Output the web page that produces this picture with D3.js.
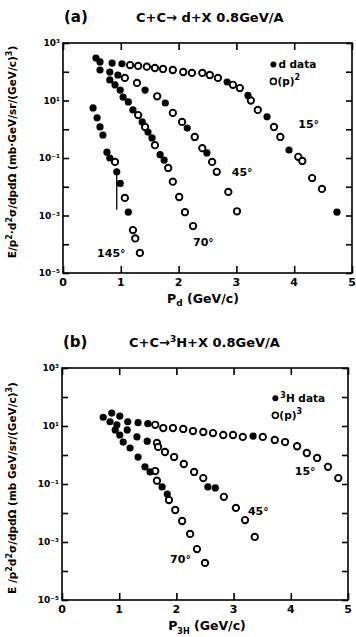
<!DOCTYPE html>
<html><head><meta charset="utf-8">
<script src="https://cdn.jsdelivr.net/npm/d3@7/dist/d3.min.js"></script>
<style>
body{margin:0;background:#fff;}
svg{display:block;}
text{font-family:"DejaVu Sans","Liberation Sans",sans-serif;font-weight:bold;fill:#000;}
</style></head><body>
<svg id="c" width="356" height="637"></svg>
<script>
// ---------- DATA (momentum GeV/c, cross section) ----------
const xTicks = [0,1,2,3,4,5];
const yTickExp = [3,1,-1,-3,-5];
const yMinorExp = [3,2,1,0,-1,-2,-3,-4,-5];

// Panel (a): C+C -> d+X
const a15_d  = [[0.57,300],[0.64,220],[0.85,200],[1.02,190],[2.84,44],[3.20,15],[3.53,2.7],[3.91,0.19],[4.74,0.0013]];
const a15_p2 = [[1.16,170],[1.30,160],[1.45,150],[1.59,135],[1.73,125],[1.90,115],[2.08,98],[2.23,91],[2.41,91],[2.54,77],[2.68,61],[2.94,35],[3.06,27],[3.25,10],[3.37,4.7],[3.65,1.2],[3.76,0.54],[4.07,0.11],[4.14,0.079],[4.31,0.020],[4.48,0.0084]];
const a45_d  = [[0.81,98],[0.95,77],[1.42,23],[1.77,8.2],[2.15,1.1],[2.49,0.15]];
const a45_p2 = [[1.07,61],[1.28,41],[1.63,14],[1.90,3.7],[2.06,1.8],[2.28,0.54],[2.41,0.22],[2.58,0.073],[2.66,0.033],[2.86,0.0066],[3.01,0.0014]];
const a70_d  = [[0.64,115],[0.81,52],[0.90,35],[0.99,23],[1.04,13],[1.13,8.9],[1.21,4.7],[1.37,1.8],[1.47,0.80],[1.54,0.50],[1.68,0.13],[1.75,0.085]];
const a70_p2 = [[1.30,3.1],[1.42,1.2],[1.59,0.28],[1.82,0.045],[1.90,0.015],[2.01,0.0044],[2.11,0.0013],[2.25,0.00043]];
const a145_d  = [[0.52,5.5],[0.59,2.5],[0.64,1.2],[0.69,0.63],[0.76,0.16],[0.81,0.10],[0.93,0.033],[0.99,0.013],[1.13,0.0013]];
const a145_p2 = [[0.90,0.073],[1.07,0.0041],[1.21,0.00031],[1.25,0.00016],[1.33,0.00005]];
const a145_err = [[0.93,0.0016,0.04]];

// Panel (b): C+C -> 3H+X
const b15_t  = [[0.72,20],[0.84,14],[0.87,28],[0.96,11],[1.01,22],[1.15,14],[1.33,13],[1.50,12],[3.34,4.5]];
const b15_p3 = [[1.63,11],[1.77,8.5],[1.94,8.5],[2.12,7.9],[2.29,6.7],[2.47,6.2],[2.64,5.7],[2.82,4.9],[2.99,4.9],[3.16,4.2],[3.51,4.2],[3.72,3.3],[3.90,2.8],[4.11,2.0],[4.28,1.17],[4.46,0.79],[4.65,0.39],[4.83,0.16]];
const b45_t  = [[0.93,7.3],[1.01,4.9],[1.14,7.3],[1.31,4.2],[1.49,3.0],[2.55,0.079],[2.68,0.073]];
const b45_p3 = [[1.66,2.6],[1.68,1.9],[1.80,1.27],[1.96,0.85],[2.13,0.49],[2.31,0.26],[2.47,0.16],[2.83,0.036],[3.04,0.015],[3.20,0.0057],[3.37,0.0015]];
const b70_t  = [[1.07,2.8],[1.19,1.74],[1.33,0.85],[1.45,0.39],[1.54,0.26],[1.75,0.079],[1.84,0.045]];
const b70_p3 = [[1.63,0.28],[1.66,0.13],[1.87,0.028],[1.98,0.0127],[2.10,0.0053],[2.24,0.0019],[2.36,0.00057],[2.50,0.00019]];

const angleLabelsA = [["15°",4.07,1.1],["45°",2.92,0.023],["70°",2.25,0.00009],["145°",0.59,0.000036]];
const angleLabelsB = [["15°",4.07,0.2],["45°",3.25,0.0085],["70°",1.89,0.00019]];

// ---------- DRAW ----------
const svg = d3.select("#c");
const sup = {"3":"³","1":"¹","-1":"⁻¹","-3":"⁻³","-5":"⁻⁵"};

function panel(cfg){
  const x = d3.scaleLinear().domain([0,5]).range([cfg.x0,cfg.x1]);
  const y = d3.scaleLog().domain([1e-5,1e3]).range([cfg.y1,cfg.y0]);
  const g = svg.append("g");

  g.append("rect").attr("x",cfg.x0).attr("y",cfg.y0)
    .attr("width",cfg.x1-cfg.x0).attr("height",cfg.y1-cfg.y0)
    .attr("fill","none").attr("stroke","#000").attr("stroke-width",1.6);

  const xb = d3.axisBottom(x).tickValues(xTicks).tickSize(-7).tickFormat("");
  g.append("g").attr("transform",`translate(0,${cfg.y1})`).call(xb);
  const xt = d3.axisTop(x).tickValues(xTicks).tickSize(-7).tickFormat("");
  g.append("g").attr("transform",`translate(0,${cfg.y0})`).call(xt);
  const yl = d3.axisLeft(y).tickValues(yMinorExp.map(e=>Math.pow(10,e))).tickSize(-6).tickFormat("");
  g.append("g").attr("transform",`translate(${cfg.x0},0)`).call(yl);
  const yr = d3.axisRight(y).tickValues(yMinorExp.map(e=>Math.pow(10,e))).tickSize(-6).tickFormat("");
  g.append("g").attr("transform",`translate(${cfg.x1},0)`).call(yr);
  g.selectAll(".domain").remove();
  g.selectAll(".tick line").attr("stroke","#000").attr("stroke-width",1.6);

  g.selectAll(".xl").data(xTicks).enter().append("text")
    .attr("x",d=>x(d)).attr("y",cfg.y1+13).attr("text-anchor","middle")
    .attr("font-size",11).text(d=>d);
  g.selectAll(".yl").data(yTickExp).enter().append("text")
    .attr("x",cfg.x0-3).attr("y",d=>y(Math.pow(10,d))+3).attr("text-anchor","end")
    .attr("font-size",9).text(d=>"10"+sup[String(d)]);

  (cfg.err||[]).forEach(e=>{
    g.append("line").attr("x1",x(e[0])).attr("x2",x(e[0]))
      .attr("y1",y(e[1])).attr("y2",y(e[2])).attr("stroke","#000").attr("stroke-width",1.3);
  });

  cfg.open.forEach(s=>{
    g.selectAll(null).data(s).enter().append("circle")
      .attr("cx",d=>x(d[0])).attr("cy",d=>y(d[1])).attr("r",3.2)
      .attr("fill","#fff").attr("stroke","#000").attr("stroke-width",1.9);
  });
  cfg.filled.forEach(s=>{
    g.selectAll(null).data(s).enter().append("circle")
      .attr("cx",d=>x(d[0])).attr("cy",d=>y(d[1])).attr("r",3.6).attr("fill","#000");
  });

  cfg.angles.forEach(a=>{
    g.append("text").attr("x",x(a[1])).attr("y",y(a[2])).attr("font-size",11).text(a[0]);
  });

  const lx = x(cfg.legX), ly = y(cfg.legY);
  g.append("circle").attr("cx",lx).attr("cy",ly).attr("r",3).attr("fill","#000");
  const t1 = g.append("text").attr("x",lx+5).attr("y",ly+4).attr("font-size",10.5);
  cfg.leg1(t1);
  g.append("circle").attr("cx",lx).attr("cy",ly+17).attr("r",3).attr("fill","#fff").attr("stroke","#000").attr("stroke-width",1.6);
  const t2 = g.append("text").attr("x",lx+4).attr("y",ly+21).attr("font-size",10.5);
  t2.append("tspan").text("(p)");
  t2.append("tspan").attr("dy",-5).attr("font-size",8).text(cfg.pow);

  g.append("text").attr("x",cfg.x0+1).attr("y",cfg.y0-21).attr("font-size",15).text(cfg.tag);
  const tt = g.append("text").attr("x",cfg.titleX).attr("y",cfg.y0-21).attr("font-size",13);
  cfg.title(tt);

  const xa = g.append("text").attr("x",cfg.xlabC).attr("y",cfg.y1+30)
    .attr("text-anchor","middle").attr("font-size",12.5);
  cfg.xlab(xa);

  const ya = g.append("text")
    .attr("transform",`translate(16,${cfg.yLabC}) rotate(-90)`)
    .attr("text-anchor","middle").attr("font-size",10.5);
  cfg.ylab(ya);
}

panel({
  x0:63,x1:352,y0:43,y1:273,
  open:[a15_p2,a45_p2,a70_p2,a145_p2],
  filled:[a15_d,a45_d,a70_d,a145_d],
  err:a145_err,
  angles:angleLabelsA,
  legX:3.64,legY:180,
  leg1:t=>t.text("d data"),
  pow:"2",
  tag:"(a)",titleX:136,
  title:t=>t.text("C+C→ d+X  0.8GeV/A"),
  xlabC:203,
  xlab:t=>{t.append("tspan").text("P");t.append("tspan").attr("font-size",9).attr("dy",3).text("d");t.append("tspan").attr("dy",-3).text("  (GeV/c)");},
  ylab:t=>{t.append("tspan").text("E/p");t.append("tspan").attr("dy",-4).attr("font-size",8).text("2");
           t.append("tspan").attr("dy",4).text("·d");t.append("tspan").attr("dy",-4).attr("font-size",8).text("2");
           t.append("tspan").attr("dy",4).text("σ/dpdΩ (mb·GeV/sr/(GeV/c)");t.append("tspan").attr("dy",-4).attr("font-size",8).text("3");
           t.append("tspan").attr("dy",4).text(")");},
  yLabC:152
});

panel({
  x0:62,x1:348,y0:368,y1:600,
  open:[b15_p3,b45_p3,b70_p3],
  filled:[b15_t,b45_t,b70_t],
  angles:angleLabelsB,
  legX:3.73,legY:90,
  leg1:t=>{t.append("tspan").attr("dy",-4).attr("font-size",8).text("3");t.append("tspan").attr("dy",4).text("H data");},
  pow:"3",
  tag:"(b)",titleX:129,
  title:t=>{t.append("tspan").text("C+C→");t.append("tspan").attr("dy",-5).attr("font-size",9).text("3");
            t.append("tspan").attr("dy",5).text("H+X  0.8GeV/A");},
  xlabC:207,
  xlab:t=>{t.append("tspan").text("P");t.append("tspan").attr("font-size",8).attr("dy",4).text("3H");t.append("tspan").attr("dy",-4).text(" (GeV/c)");},
  ylab:t=>{t.append("tspan").text("E /p");t.append("tspan").attr("dy",-4).attr("font-size",8).text("2");
           t.append("tspan").attr("dy",4).text("d");t.append("tspan").attr("dy",-4).attr("font-size",8).text("2");
           t.append("tspan").attr("dy",4).text("σ/dpdΩ (mb GeV/sr/(GeV/c)");t.append("tspan").attr("dy",-4).attr("font-size",8).text("3");
           t.append("tspan").attr("dy",4).text(")");},
  yLabC:488
});
</script>
</body></html>
